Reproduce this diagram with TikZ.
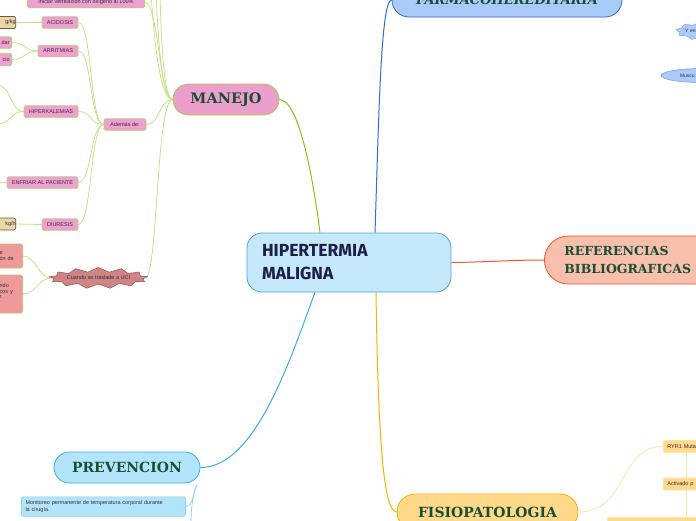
\documentclass[tikz,border=0pt]{standalone}
\usepackage{fontspec}
\setmainfont{Liberation Sans}
\newfontfamily\titlefont{DejaVu Serif}
\newfontfamily\centerfont{Fira Sans}
\usetikzlibrary{shapes.symbols,shapes.geometric,backgrounds,calc}
\definecolor{titlegreen}{HTML}{184D36}
\definecolor{navy}{HTML}{1B1F4A}
\definecolor{cfill}{HTML}{C5E9FA}
\definecolor{cline}{HTML}{4BA3D9}
\definecolor{pinkfill}{HTML}{EC9ECC}
\definecolor{pinkline}{HTML}{A8C84A}
\definecolor{subpink}{HTML}{EFA0D0}
\definecolor{subline}{HTML}{BFCC6E}
\definecolor{greenconn}{HTML}{8DBF1A}
\definecolor{lightgreen}{HTML}{C6E08A}
\definecolor{farmfill}{HTML}{A9CBF9}
\definecolor{farmline}{HTML}{2B6ED6}
\definecolor{reffill}{HTML}{F8BFAC}
\definecolor{refline}{HTML}{F0582A}
\definecolor{fisfill}{HTML}{FFD98A}
\definecolor{fisline}{HTML}{F4B400}
\definecolor{yelsub}{HTML}{FFDA8C}
\definecolor{yelline}{HTML}{FFE3A0}
\definecolor{prevfill}{HTML}{B3E5FA}
\definecolor{prevline}{HTML}{3BAEE3}
\definecolor{prevsub}{HTML}{86D2F2}
\definecolor{tanfill}{HTML}{EAD6A8}
\definecolor{tanline}{HTML}{6B5A3A}
\definecolor{redfill}{HTML}{EE9A9A}
\definecolor{redline}{HTML}{D6B46A}
\definecolor{ucifill}{HTML}{D08585}
\definecolor{uciline}{HTML}{A05A5A}
\definecolor{smalltext}{HTML}{3A2A3A}
\tikzset{
  title/.style={font=\titlefont\bfseries, text=titlegreen, rounded corners=#1, line width=0.8pt, inner sep=0pt},
  subbox/.style={draw=subline, fill=subpink, line width=0.8pt, rounded corners=1.5pt, font=\fontsize{5.5}{6.5}\selectfont, text=smalltext, inner sep=0pt, minimum height=11.5pt},
  tanbox/.style={draw=tanline, fill=tanfill, line width=0.7pt, rounded corners=1.5pt, font=\fontsize{5.5}{6.5}\selectfont, text=smalltext, inner sep=0pt, minimum height=12pt, text width=28pt, align=right, anchor=east},
  redbox/.style={draw=redline, fill=redfill, line width=0.7pt, rounded corners=2.5pt, font=\fontsize{5.5}{7}\selectfont, text=smalltext, inner xsep=3pt, text width=20pt, align=left, anchor=east},
  yelbox/.style={draw=yelline, fill=yelsub, line width=0.7pt, rounded corners=1.5pt, font=\fontsize{5.5}{6.5}\selectfont, text=smalltext, inner xsep=4pt, text width=60pt, align=left, minimum height=12pt, anchor=west},
  gconn/.style={draw=lightgreen, line width=0.8pt},
}
\begin{document}
\begin{tikzpicture}[x=1pt,y=-1pt]
\useasboundingbox (0,0) rectangle (696,520);
\clip (0,0) rectangle (696,520);

% central
\node[draw=cline, fill=cfill, line width=0.8pt, rounded corners=15pt, minimum width=204pt, minimum height=59pt, text width=174pt, inner xsep=15pt, align=left, font=\centerfont\bfseries\fontsize{17.5}{23}\selectfont, text=navy] (c) at (349,262.5) {HIPERTERMIA\\MALIGNA};

% main branches
\node[title=15.5pt, draw=pinkline, fill=pinkfill, minimum width=106pt, minimum height=31pt, font=\titlefont\bfseries\fontsize{14.5}{16}\selectfont] (man) at (226,99.5) {MANEJO};
\node[title=17pt, draw=farmline, fill=farmfill, minimum width=230pt, minimum height=34pt, font=\titlefont\bfseries\itshape\fontsize{13}{15}\selectfont] (farm) at (507,0) {FARMACOHEREDITARIA};
\node[title=24pt, draw=refline, fill=reffill, minimum width=180pt, minimum height=48pt, text width=140pt, align=left, font=\titlefont\bfseries\fontsize{12.5}{18}\selectfont, anchor=west] (ref) at (544,260) {REFERENCIAS\\BIBLIOGRAFICAS};
\node[title=18pt, draw=fisline, fill=fisfill, minimum width=181pt, minimum height=36pt, font=\titlefont\bfseries\fontsize{14}{16}\selectfont] (fis) at (487.5,512) {FISIOPATOLOGIA};
\node[title=15.5pt, draw=prevline, fill=prevfill, minimum width=146pt, minimum height=31pt, font=\titlefont\bfseries\fontsize{14}{16}\selectfont] (prev) at (127,467.5) {PREVENCION};

% manejo children
\node[subbox, minimum width=117pt] (ini) at (86,2) {Iniciar ventilaci\'on con ox\'igeno al 100\%};
\node[subbox, minimum width=42pt] (ade) at (125,124.5) {Adem\'as de:};
\node[starburst, starburst points=13, starburst point height=4.5pt, random starburst=0, draw=uciline, fill=ucifill, line width=0.6pt, minimum width=97pt, minimum height=21pt, inner sep=0pt, font=\fontsize{5.5}{6.5}\selectfont, text=smalltext] (uci) at (98.5,278) {Cuando se traslade a UCI};

\node[subbox, minimum width=36pt] (acid) at (60,22.5) {ACIDOSIS};
\node[subbox, minimum width=40pt] (arr) at (58,51) {ARRITMIAS};
\node[subbox, minimum width=54pt] (hip) at (51,111.5) {HIPERKALEMIAS};
\node[subbox, minimum width=71pt] (enf) at (42.5,182.5) {ENFRIAR AL PACIENTE};
\node[subbox, minimum width=36pt] (diu) at (60,224.5) {DIURESIS};

\node[tanbox] (acidc) at (16,22.5) {g/kg};
\node[tanbox] (diuc) at (16,224) {kg/h};
\node[subbox, text width=28pt, align=right, anchor=east, inner xsep=2pt] (arr1) at (12,42.5) {dar};
\node[subbox, text width=28pt, align=right, anchor=east, inner xsep=2pt, minimum height=12.5pt] (arr2) at (12,59.5) {cio};
\coordinate (hip1) at (-4,85);
\coordinate (hip2) at (-4,124);
\coordinate (enf1) at (-4,182.5);

\node[redbox, minimum height=24pt] (red1) at (23,256) {e\\[-1pt]\'on de};
\node[redbox, minimum height=38pt] (red2) at (23,294) {ndo\\[-1.5pt]cos y\\[-1.5pt]r.\\[-1.5pt]~};

\coordinate (up1) at (151,-8);
\coordinate (up2) at (156,-8);
\coordinate (up3) at (160,-8);

% right side fragments
\node[starburst, starburst points=9, starburst point height=3pt, random starburst=0, draw=farmline!60, fill=farmfill, line width=0.5pt, minimum width=44pt, minimum height=18pt, inner sep=0pt, text width=30pt, align=left, font=\fontsize{5}{6}\selectfont, text=smalltext] (yen) at (700,31) {Y en};
\node[ellipse, draw=farmline!70, fill=farmfill, line width=0.5pt, minimum width=82pt, minimum height=14pt, inner sep=0pt, text width=44pt, align=left, font=\fontsize{5}{6}\selectfont, text=smalltext] (musc) at (702,75.5) {Muscu};

\node[yelbox] (ryr) at (663,446.5) {RYR1 Muta};
\node[yelbox] (act) at (663,484) {Activado p};
\node[draw=yelline, fill=yelsub, line width=0.7pt, rounded corners=1.5pt, minimum width=100pt, minimum height=12pt, anchor=north west, inner sep=0pt] (bar) at (607,517) {};
\coordinate (vx) at (686,0);

% prevention child
\node[draw=prevsub, fill=prevfill, line width=0.7pt, rounded corners=2pt, minimum width=164pt, minimum height=19pt, text width=156pt, inner xsep=4pt, align=left, font=\fontsize{5.5}{7.5}\selectfont, text=smalltext] (mon) at (103.5,506.5) {Monitoreo permanente de temperatura corporal durante\\la cirug\'ia.};
\coordinate (prevk) at (197,485);
\coordinate (prevd) at (191,525);

\begin{scope}[on background layer]
  % main connectors
  \draw[greenconn, line width=1pt] ([xshift=-29pt]c.north) .. controls (312,170) and (298,100) .. (man.east);
  \draw[farmline, line width=1pt] ([xshift=26pt]c.north) .. controls (379,110) and (381,0) .. (farm.west);
  \draw[refline, line width=1pt] (c.east) .. controls (490,262) and (510,260) .. (ref.west);
  \draw[fisline, line width=1pt] ([xshift=27pt]c.south) .. controls (378,420) and (382,512) .. (fis.west);
  \draw[prevline, line width=1pt] ([xshift=-34pt]c.south) .. controls (290,360) and (255,468) .. (prev.east);
  % manejo subs
  \draw[gconn] (man.west) .. controls (160,100) and (158,2) .. (ini.east);
  \draw[gconn] (man.west) .. controls (160,100) and (154,40) .. (up1);
  \draw[gconn] (man.west) .. controls (162,100) and (158,40) .. (up2);
  \draw[gconn] (man.west) .. controls (164,100) and (161,40) .. (up3);
  \draw[gconn] (man.west) .. controls (158,100) and (160,125) .. (ade.east);
  \draw[gconn] (man.west) .. controls (156,100) and (158,277) .. (uci.east);
  % ademas subs
  \draw[gconn] (ade.west) .. controls (90,125) and (92,22.5) .. (acid.east);
  \draw[gconn] (ade.west) .. controls (90,125) and (92,51) .. (arr.east);
  \draw[gconn] (ade.west) .. controls (90,125) and (92,111.5) .. (hip.east);
  \draw[gconn] (ade.west) .. controls (90,125) and (92,182.5) .. (enf.east);
  \draw[gconn] (ade.west) .. controls (90,125) and (92,224.5) .. (diu.east);
  \draw[gconn] (acid.west) -- (acidc.east);
  \draw[gconn] (diu.west) -- (diuc.east);
  \draw[gconn] (arr.west) .. controls (25,51) and (25,42.5) .. (arr1.east);
  \draw[gconn] (arr.west) .. controls (25,51) and (25,59.5) .. (arr2.east);
  \draw[gconn] (hip.west) .. controls (10,111.5) and (12,85) .. (hip1);
  \draw[gconn] (hip.west) .. controls (10,111.5) and (12,124) .. (hip2);
  \draw[gconn] (enf.west) -- (enf1);
  \draw[gconn] (uci.west) .. controls (38,278) and (36,256) .. (red1.east);
  \draw[gconn] (uci.west) .. controls (38,278) and (36,294) .. (red2.east);
  % fisio subs
  \draw[yelline, line width=0.8pt] (fis.east) .. controls (628,512) and (618,446.5) .. (ryr.west);
  \draw[yelline, line width=0.8pt] (ryr.south -| vx) -- (act.north -| vx);
  \draw[yelline, line width=0.8pt] (act.south -| vx) -- (bar.north -| vx);
  % prevention subs
  \draw[prevsub, line width=0.7pt] (prevk) .. controls (192,492) and (194,506.5) .. (mon.east);
  \draw[prevsub, line width=0.7pt] (prevk) .. controls (193,495) and (191,505) .. (prevd);
\end{scope}
\end{tikzpicture}
\end{document}
